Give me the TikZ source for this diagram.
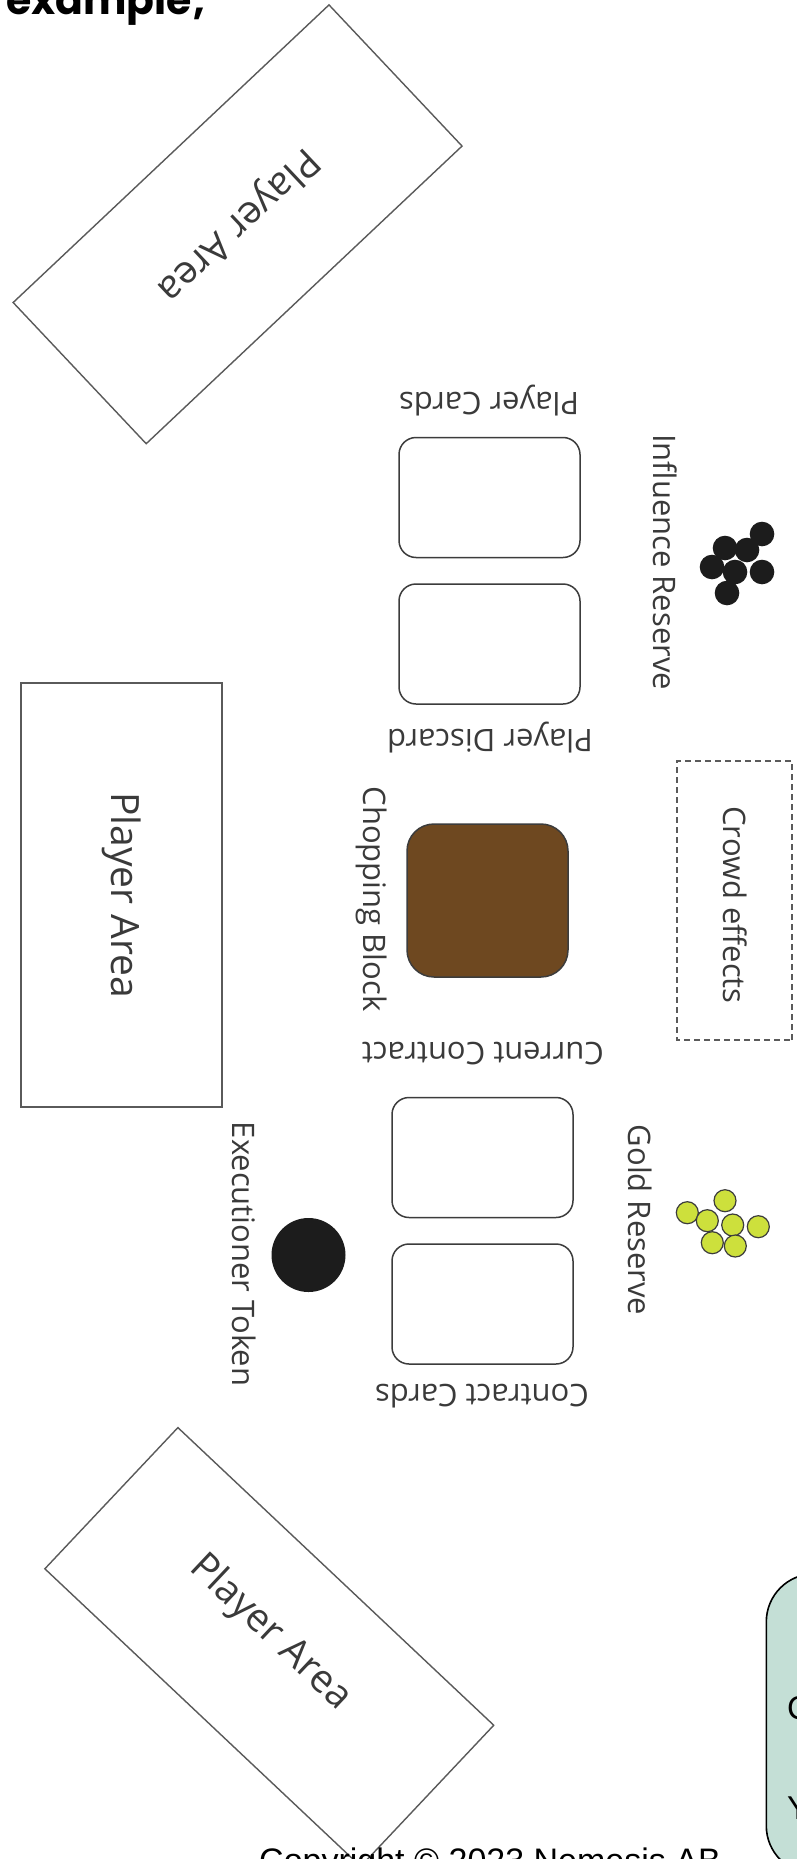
\documentclass[tikz,border=0pt]{standalone}
\usepackage{fontspec}
\newfontfamily\labelfont{Open Sans}
\newfontfamily\notefont{Liberation Sans}
\newfontfamily\titlefont{Poppins}
\definecolor{labelgray}{HTML}{3A3A3A}
\definecolor{areagray}{HTML}{5A5A5A}
\definecolor{cardgray}{HTML}{3C3C3C}
\definecolor{blockbrown}{HTML}{6E4820}
\definecolor{tokenblack}{HTML}{1C1C1C}
\definecolor{goldfill}{HTML}{CDE03C}
\definecolor{notefill}{HTML}{C4DFD6}
\tikzset{
  lbl/.style={text=labelgray, font=\labelfont\fontsize{31}{31}\selectfont, inner sep=0pt},
  area/.style={draw=areagray, line width=1.4pt, text=labelgray,
    font=\labelfont\fontsize{39}{39}\selectfont,
    minimum width=434pt, minimum height=194pt, inner sep=0pt},
  arealbl/.style={text=labelgray, font=\labelfont\fontsize{39}{39}\selectfont, inner sep=0pt},
  card/.style={draw=cardgray, line width=1.5pt, rounded corners=17pt,
    minimum width=181pt, minimum height=120pt, inner sep=0pt},
  block/.style={draw=cardgray, line width=1.5pt, fill=blockbrown, rounded corners=27pt,
    minimum width=161pt, minimum height=153pt, inner sep=0pt},
  crowdbox/.style={draw=areagray, line width=1.3pt, dash pattern=on 6pt off 4pt,
    text=labelgray, font=\labelfont\fontsize{31}{31}\selectfont, inner sep=0pt},
  inftoken/.style={circle, fill=tokenblack, minimum size=24.6pt, inner sep=0pt},
  goldtoken/.style={circle, draw=cardgray, line width=1.2pt, fill=goldfill,
    minimum size=22pt, inner sep=0pt},
  notebox/.style={draw=black, line width=1.6pt, fill=notefill, rounded corners=48pt,
    inner sep=0pt},
  notetext/.style={font=\notefont\fontsize{33}{33}\selectfont, text=black, inner sep=0pt}
}
\begin{document}
\begin{tikzpicture}[x=1pt, y=-1pt]
\useasboundingbox (0,0) rectangle (797,1859);
\clip (0,0) rectangle (797,1859);
\fill[white] (0,0) rectangle (797,1859);

% heading, cut by the top edge
\node[anchor=base west, inner sep=0pt, font=\titlefont\bfseries\fontsize{41}{41}\selectfont] (title) at (6,15) {example;};

% player areas round the table
\node[area, rotate=223.3] (areaTop) at (237.6,224.3) {Player Area};
\node[area, rotate=-90, minimum width=424pt, minimum height=201pt] (areaLeft) at (121.5,895) {Player Area};
\node[area, rotate=-43.3] (areaBottom) at (269.3,1647) {};
\node[arealbl, rotate=-43.3] (areaBottomLbl) at (270,1633) {Player Area};

% player card piles
\node[card] (playerCards) at (489.5,497.5) {};
\node[card] (playerDiscard) at (489.5,644) {};
\node[lbl, rotate=180] (playerCardsLbl) at (489,401) {Player Cards};
\node[lbl, rotate=180] (playerDiscardLbl) at (490,738) {Player Discard};

% influence reserve
\node[lbl, rotate=-90] (influenceLbl) at (665,562) {Influence Reserve};
\foreach \p [count=\i] in {(762,534),(725,548),(747,550),(712,567),(735,572),(762,572),(727,593)}
  \node[inftoken] (inf\i) at \p {};

% chopping block
\node[block] (block) at (487.5,900.5) {};
\node[lbl, rotate=-90] (blockLbl) at (372,899) {Chopping Block};

% crowd effects
\node[crowdbox, rotate=-90, minimum width=279pt, minimum height=115pt] (crowd) at (734.5,900.5) {};
\node[lbl, rotate=-90] (crowdLbl) at (735,905) {Crowd effects};

% contract piles
\node[lbl, rotate=180] (currentLbl) at (483,1054) {Current Contract};
\node[card] (currentContract) at (482.5,1157.5) {};
\node[card] (contractCards) at (482.5,1304) {};
\node[lbl, rotate=180] (contractLbl) at (482,1396) {Contract Cards};

% executioner token
\node[circle, fill=tokenblack, minimum size=74pt, inner sep=0pt] (executioner) at (308.5,1255) {};
\node[lbl, rotate=-90] (executionerLbl) at (244,1254) {Executioner Token};

% gold reserve
\node[lbl, rotate=-90] (goldLbl) at (640,1220) {Gold Reserve};
\foreach \p [count=\i] in {(725,1200.7),(687.3,1212.7),(707.3,1220.7),(732.7,1225),(758.3,1226.7),(712.3,1242.7),(735.3,1246)}
  \node[goldtoken] (gold\i) at \p {};

% note box at the lower right
\node[notebox, anchor=north west, minimum width=120pt, minimum height=300pt] (note) at (765.5,1573) {};
\node[notetext, anchor=west] (noteC) at (787,1708) {C};
\node[notetext, anchor=west] (noteY) at (787,1808) {Y};

% copyright line
\node[anchor=base west, inner sep=0pt, font=\notefont\fontsize{34}{34}\selectfont] (copyright) at (259,1872) {Copyright © 2023 Nemesis AB};
\end{tikzpicture}
\end{document}
